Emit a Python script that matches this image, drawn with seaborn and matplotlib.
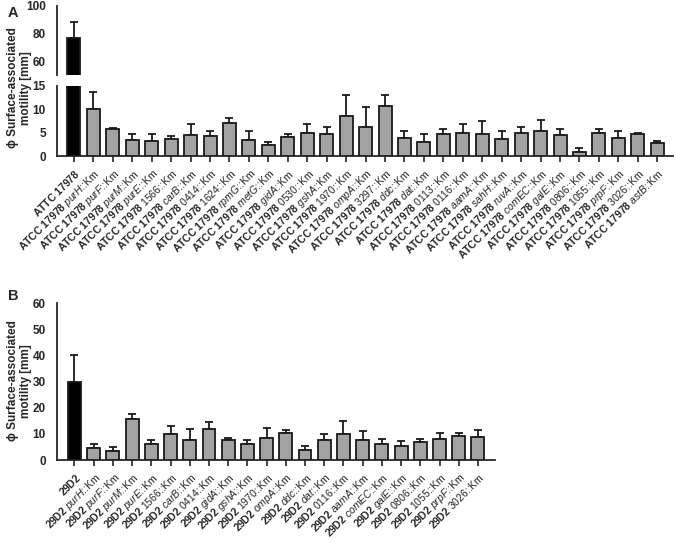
import numpy as np
import pandas as pd
import matplotlib
matplotlib.use("Agg")
import matplotlib.pyplot as plt
import seaborn as sns

# Panel A: ATCC 17978 and its transposon mutants
wt_a = "ATTC 17978"
genes_a = ["purH", "purF", "purM", "purE", "1566", "carB", "0414", "1624", "rpmG", "metG",
           "gidA", "0530", "gshA", "1970", "ompA", "3297", "ddc", "dat", "0113", "0116",
           "aamA", "sahH", "ruvA", "comEC", "galE", "0806", "1055", "prpF", "3026", "astB"]
mean_a = [77.1, 10.0, 5.8, 3.4, 3.3, 3.6, 4.4, 4.2, 7.1, 3.5, 2.4,
          4.1, 4.9, 4.7, 8.6, 6.3, 10.8, 3.8, 2.9, 4.7, 4.9,
          4.7, 3.6, 4.9, 5.3, 4.4, 0.9, 4.9, 3.8, 4.8, 2.8]
err_a = [11.1, 3.7, 0.1, 1.3, 1.4, 0.7, 2.5, 1.2, 1.0, 1.9, 0.7,
         0.6, 2.0, 1.6, 4.4, 4.2, 2.3, 1.6, 1.9, 1.0, 1.9,
         2.8, 1.8, 1.4, 2.5, 1.4, 0.8, 0.9, 1.5, 0.2, 0.5]

# Panel B: 29D2 and its transposon mutants
wt_b = "29D2"
genes_b = ["purH", "purF", "purM", "purE", "1566", "carB", "0414", "gidA", "gshA", "1970",
           "ompA", "ddc", "dat", "0116", "aamA", "comEC", "galE", "0806", "1055", "prpF", "3026"]
mean_b = [30.0, 4.6, 3.4, 15.8, 6.0, 9.8, 7.6, 11.9, 7.6, 6.2, 8.4,
          10.4, 3.9, 7.5, 9.8, 7.6, 6.0, 5.2, 6.9, 8.0, 9.3, 8.8]
err_b = [10.2, 1.5, 1.4, 1.9, 1.5, 3.2, 4.3, 2.8, 0.7, 1.6, 3.7,
         0.9, 1.4, 2.3, 5.1, 3.5, 1.9, 2.2, 1.2, 2.4, 0.9, 2.8]

sns.set_style("white")
plt.rcParams["font.family"] = ["Liberation Sans", "DejaVu Sans"]
plt.rcParams["mathtext.fontset"] = "custom"
plt.rcParams["mathtext.rm"] = "Liberation Sans"
plt.rcParams["mathtext.bf"] = "Liberation Sans:bold"
plt.rcParams["mathtext.it"] = "Liberation Sans:italic"


def make_labels(wt, strain, genes):
    # strain name bold, gene name italic (numbered loci stay upright)
    labels = [r"$\mathbf{" + wt.replace(" ", r"\ ") + "}$"]
    s = r"$\mathbf{" + strain.replace(" ", r"\ ") + "}$ "
    for g in genes:
        if g.isdigit():
            labels.append(s + g + "::Km")
        else:
            labels.append(s + r"$\mathit{" + g + "}$::Km")
    return labels


def draw_bars(ax, labels, means, errs):
    df = pd.DataFrame({"strain": labels, "val": means})
    colors = ["black"] + ["#a3a3a3"] * (len(labels) - 1)
    sns.barplot(data=df, x="strain", y="val", hue="strain", palette=colors, legend=False,
                width=0.67, edgecolor="#1a1a1a", linewidth=1.3, ax=ax, zorder=3)
    ax.errorbar(np.arange(len(means)), means, yerr=[np.zeros(len(errs)), errs], fmt="none",
                ecolor="#1a1a1a", elinewidth=1.3, capsize=3, capthick=1.3, zorder=2)
    sns.despine(ax=ax)
    ax.set_xlabel("")
    ax.set_ylabel("")
    for s in ["left", "bottom"]:
        ax.spines[s].set_linewidth(1.3)
    ax.tick_params(width=1.2, length=4.5)


fig = plt.figure(figsize=(6.76, 5.44), dpi=100)

labels_a = make_labels(wt_a, "ATCC 17978", genes_a)
labels_b = make_labels(wt_b, "29D2", genes_b)

# panel A, broken y axis
ax_top = fig.add_axes([0.0843, 0.862, 0.911, 0.127])
ax_low = fig.add_axes([0.0843, 0.7132, 0.911, 0.1288])
draw_bars(ax_top, labels_a, mean_a, err_a)
draw_bars(ax_low, labels_a, mean_a, err_a)
ax_top.set_ylim(50, 100)
ax_top.set_yticks([50, 60, 80, 100])
ax_top.set_yticklabels(["", "60", "80", "100"], fontweight="bold", fontsize=8.5)
ax_top.spines["bottom"].set_visible(False)
ax_top.tick_params(axis="x", bottom=False, labelbottom=False)
ax_low.set_ylim(0, 15)
ax_low.set_yticks([0, 5, 10, 15])
ax_low.set_yticklabels(["0", "5", "10", "15"], fontweight="bold", fontsize=8.5)
for ax in (ax_top, ax_low):
    ax.set_xlim(-0.87, len(labels_a) - 0.2)
ax_low.tick_params(axis="x", bottom=True)
ax_low.set_xticks(np.arange(len(labels_a)))
ax_low.set_xticklabels(labels_a, rotation=45, ha="right", rotation_mode="anchor", fontsize=7.5)

# panel B
ax_b = fig.add_axes([0.0843, 0.1544, 0.648, 0.2886])
draw_bars(ax_b, labels_b, mean_b, err_b)
ax_b.set_ylim(0, 60)
ax_b.set_yticks(np.arange(0, 61, 10))
ax_b.set_yticklabels([str(v) for v in range(0, 61, 10)], fontweight="bold", fontsize=8.5)
ax_b.set_xlim(-0.91, len(labels_b) - 0.11)
ax_b.tick_params(axis="x", bottom=True)
ax_b.set_xticks(np.arange(len(labels_b)))
ax_b.set_xticklabels(labels_b, rotation=45, ha="right", rotation_mode="anchor", fontsize=7.5)

ylab = "\u03d5 Surface-associated\nmotility [mm]"
fig.text(0.029, 1 - 88 / 544, ylab, rotation=90, ha="center", va="center",
         fontsize=8.5, fontweight="bold", linespacing=1.1)
fig.text(0.029, 1 - 381 / 544, ylab, rotation=90, ha="center", va="center",
         fontsize=8.5, fontweight="bold", linespacing=1.1)
fig.text(0.012, 1 - 13 / 544, "A", fontsize=10.5, fontweight="bold", va="center")
fig.text(0.012, 1 - 296 / 544, "B", fontsize=10.5, fontweight="bold", va="center")

fig.savefig("out.png", dpi=100)
